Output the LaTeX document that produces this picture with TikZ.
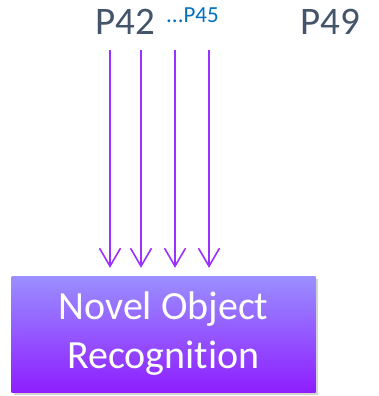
\documentclass[tikz,border=0pt]{standalone}
\usepackage{fontspec}
\setmainfont{Carlito}[Ligatures={NoCommon,NoRare,NoContextual}]
\usetikzlibrary{arrows.meta,shadows}
\definecolor{ptext}{HTML}{44546A}
\definecolor{pblue}{HTML}{0070C0}
\definecolor{arrowc}{HTML}{9B30FF}
\definecolor{boxtop}{HTML}{9A90FF}
\definecolor{boxbot}{HTML}{8E1EFF}
\tikzset{
  plabel/.style={text=ptext, font=\fontsize{39}{39}\selectfont, inner sep=0pt, anchor=base},
  flow/.style={draw=arrowc, line width=1.6pt, -{Straight Barb[length=18pt,width=21pt,line width=1.6pt]}, shorten >=8pt},
  taskbox/.style={rectangle, minimum width=304pt, minimum height=116pt, top color=boxtop, bottom color=boxbot, draw=none,
    drop shadow={shadow xshift=2.5pt, shadow yshift=-2.5pt, opacity=0.35},
    text=white, align=center, font=\fontsize{40}{49}\selectfont, inner sep=0pt}
}
\begin{document}
\begin{tikzpicture}[x=1pt,y=-1pt]
\useasboundingbox (0,0) rectangle (379,396);
\node[plabel] (p42) at (125,35) {P42};
\node[plabel] (p49) at (330,35) {P49};
\node[text=pblue, font=\fontsize{23}{23}\selectfont, inner sep=0pt, anchor=base west] (p45) at (166,23) {...P45};
\node[taskbox] (box) at (163.5,334) {Novel Object\\Recognit\kern0pt ion};
\foreach \i/\x in {1/110,2/141,3/175,4/209}{
  \coordinate (s\i) at (\x,50);
  \draw[flow] (s\i) -- (s\i |- box.north);
}
\end{tikzpicture}
\end{document}
